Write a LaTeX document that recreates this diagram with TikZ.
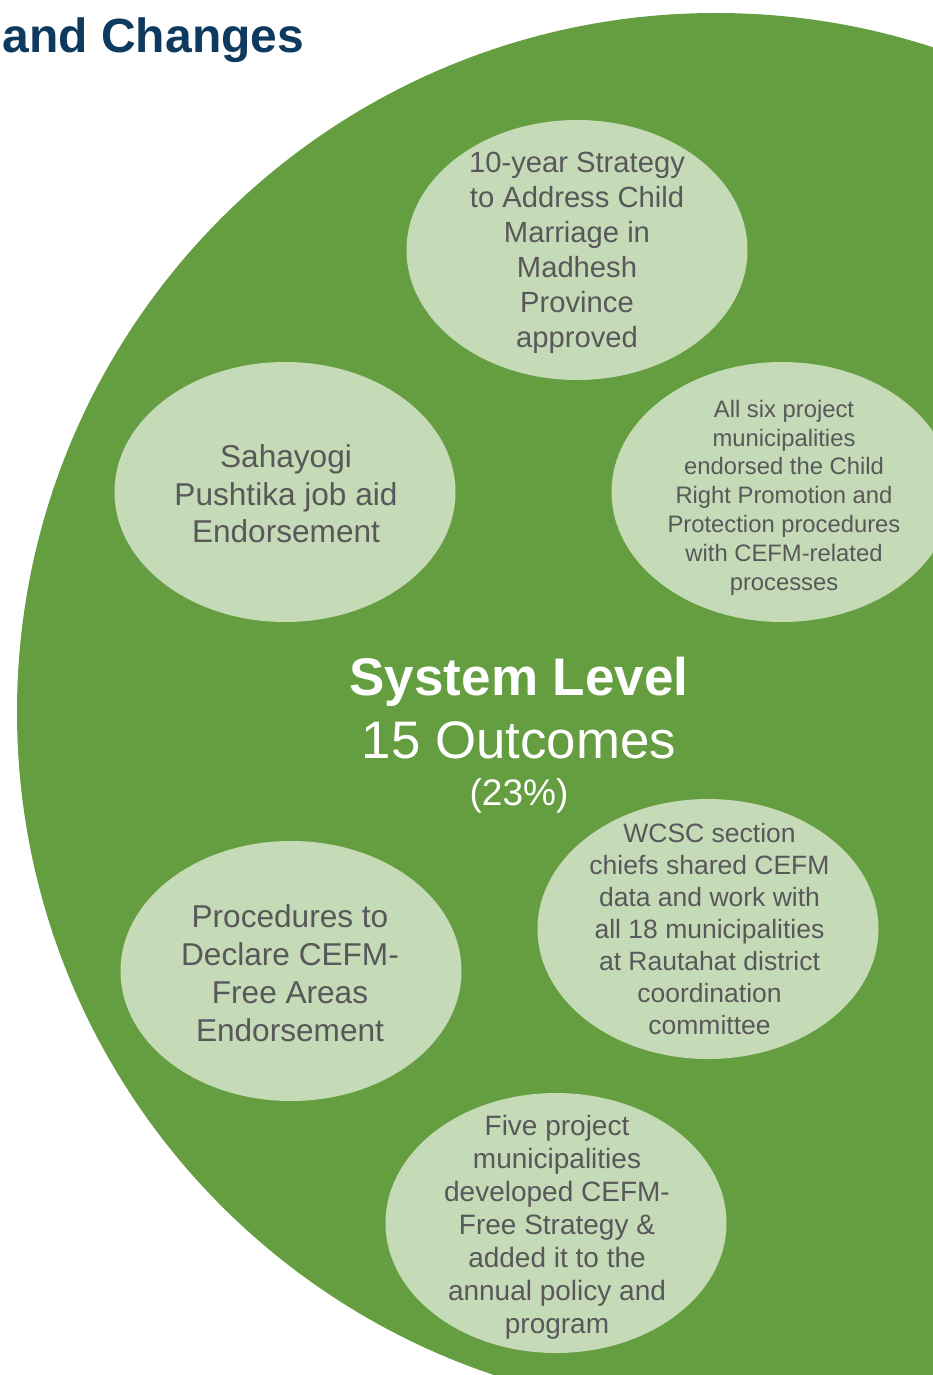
\documentclass[tikz,border=0pt]{standalone}
\usepackage{fontspec}
\setmainfont{Liberation Sans}
\usetikzlibrary{shapes.geometric}
\definecolor{biggreen}{HTML}{659E40}
\definecolor{bubblegreen}{HTML}{C5DAB6}
\definecolor{txtgray}{HTML}{58585A}
\definecolor{navy}{HTML}{0E3A5F}
\tikzset{
  bubble/.style={ellipse, fill=bubblegreen, draw=none, inner sep=0pt,
    minimum width=341pt, minimum height=260pt},
  btext/.style={text=txtgray, align=center, inner sep=0pt},
  ctext/.style={text=white, anchor=base, inner sep=0pt},
}
\begin{document}
\begin{tikzpicture}[x=1pt,y=-1pt]
\useasboundingbox (0,0) rectangle (933,1375);
\fill[white] (0,0) rectangle (933,1375);
\begin{scope}
\clip (0,0) rectangle (933,1375);
\node[circle, fill=biggreen, inner sep=0pt, minimum size=1398pt] (big) at (716,712) {};
\node[bubble] (e1) at (577,250) {};
\node[bubble] (e2) at (285,492) {};
\node[bubble] (e3) at (782,492) {};
\node[bubble] (e5) at (291,971) {};
\node[bubble] (e6) at (708,929) {};
\node[bubble] (e7) at (556,1223) {};
\end{scope}
\node[anchor=base west, inner sep=0pt, text=navy, font=\fontsize{48}{56}\selectfont\bfseries] (title) at (2.5,53)
  {and Changes};
\node[btext, font=\fontsize{29.2}{35}\selectfont] (t1) at (577,253)
  {10-year Strategy\\to Address Child\\Marriage in\\Madhesh\\Province\\approved};
\node[btext, font=\fontsize{31.6}{37.5}\selectfont] (t2) at (286,494)
  {Sahayogi\\Pushtika job aid\\Endorsement};
\node[btext, font=\fontsize{23.8}{28.8}\selectfont] (t3) at (784,497.5)
  {All six project\\municipalities\\endorsed the Child\\Right Promotion and\\Protection procedures\\with CEFM-related\\processes};
\node[btext, font=\fontsize{31.6}{38}\selectfont] (t5) at (290,973.5)
  {Procedures to\\Declare CEFM-\\Free Areas\\Endorsement};
\node[btext, font=\fontsize{26.5}{32}\selectfont] (t6) at (709.5,929.5)
  {WCSC section\\chiefs shared CEFM\\data and work with\\all 18 municipalities\\at Rautahat district\\coordination\\committee};
\node[btext, font=\fontsize{28}{33}\selectfont] (t7) at (557,1227)
  {Five project\\municipalities\\developed CEFM-\\Free Strategy \&\\added it to the\\annual policy and\\program};
\node[ctext, font=\fontsize{53}{60}\selectfont\bfseries] (sys) at (519,695) {System Level};
\node[ctext, font=\fontsize{52.8}{60}\selectfont] (out) at (519,758) {15 Outcomes};
\node[ctext, font=\fontsize{37}{44}\selectfont] (pct) at (519,805) {(23\%)};
\end{tikzpicture}
\end{document}
